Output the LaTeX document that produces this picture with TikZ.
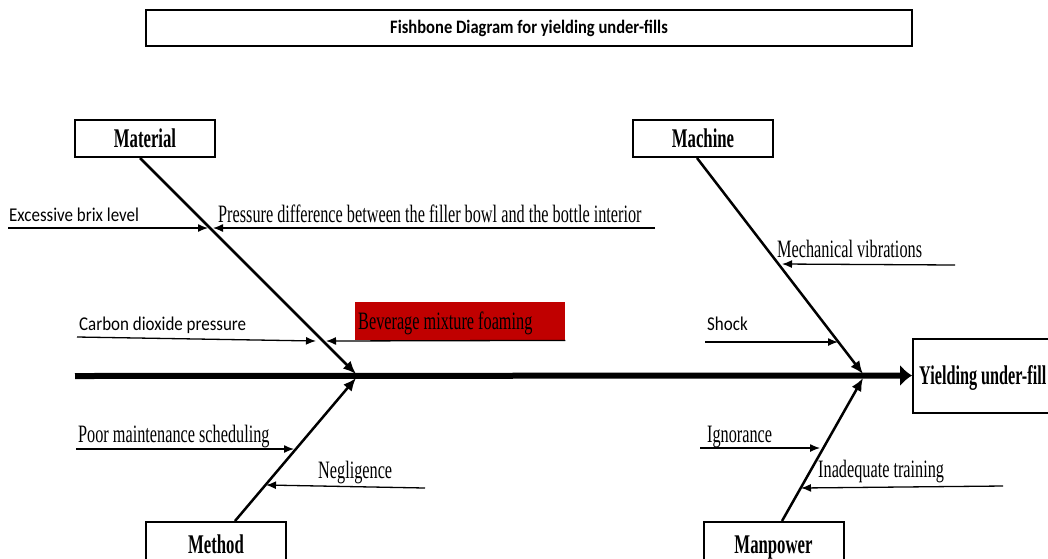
\documentclass[tikz,border=0pt]{standalone}
\usepackage{fontspec}
\setmainfont{Liberation Serif}
\newfontfamily\serifc[FakeStretch=0.65]{Liberation Serif}
\newfontfamily\serifcb[FakeStretch=0.62]{Liberation Serif}
\newfontfamily\serifce[FakeStretch=0.6]{Liberation Serif}
\newfontfamily\sansc[FakeStretch=0.87]{Carlito}
\usetikzlibrary{arrows.meta}
\definecolor{foamred}{RGB}{192,0,0}
\tikzset{
  catbox/.style={draw, line width=2pt, minimum width=140pt, minimum height=37pt, inner sep=0pt,
    text height=18pt, text depth=0pt, font=\serifcb\bfseries\fontsize{27}{30}\selectfont},
  titlebox/.style={draw, line width=2.5pt, minimum width=766pt, minimum height=36pt,
    font=\sansc\bfseries\fontsize{19}{22}\selectfont},
  effbox/.style={draw, line width=2pt, anchor=west, minimum height=74pt, minimum width=200pt, inner sep=0pt},
  efflab/.style={anchor=base west, inner sep=0pt, font=\serifce\bfseries\fontsize{27}{30}\selectfont},
  spine/.style={line width=6pt, -{Latex[length=12pt,width=22pt]}},
  bone/.style={line width=2.5pt, -{Latex[length=13pt,width=11pt]}},
  sub/.style={line width=1.3pt, -{Latex[length=10pt,width=8pt]}},
  slab/.style={anchor=base west, inner sep=0pt, font=\serifc\fontsize{25}{28}\selectfont},
  sslab/.style={anchor=base west, inner sep=0pt, font=\sansc\fontsize{19.5}{22}\selectfont},
  foambox/.style={fill=foamred, anchor=north west, minimum width=210pt, minimum height=38pt, inner sep=0pt},
}
\begin{document}
\begin{tikzpicture}[x=1pt,y=-1pt]
\clip (0,0) rectangle (1048,558);
\fill[white] (0,0) rectangle (1048,558);

% title
\node[titlebox] (title) at (529,28) {Fishbone Diagram for yielding under-fills};

% category boxes
\node[catbox] (material) at (145,138.5) {Material};
\node[catbox] (machine) at (703,138.5) {Machine};
\node[catbox, minimum height=44pt] (method) at (216,544) {Method};
\node[catbox, minimum height=44pt] (manpower) at (773.5,544) {Manpower};

% effect
\node[effbox] (effect) at (912,375.5) {};
\node[efflab] (efftext) at (919,384.5) {Yielding under-fill};

% junctions
\coordinate (j1a) at (356,374);
\coordinate (j1b) at (356,378);
\coordinate (j2a) at (863,374);
\coordinate (j2b) at (863,378);
\coordinate (tail) at (75,376);

% spine and bones
\draw[spine] (tail) -- (effect.west);
\draw[bone] ([xshift=-5pt]material.south) -- (j1a);
\draw[bone] ([xshift=19pt]method.north) -- (j1b);
\draw[bone] ([xshift=-6pt]machine.south) -- (j2a);
\draw[bone] ([xshift=8.5pt]manpower.north) -- (j2b);

% red cause box
\node[foambox] (foam) at (355,302) {};
\node[slab] (l4) at (358,329.5) {Beverage mixture foaming};

% sub-cause labels
\node[sslab] (l1) at (9,221) {Excessive brix level};
\node[slab] (l2) at (218,222) {Pressure difference between the filler bowl and the bottle interior};
\node[sslab] (l3) at (79,330) {Carbon dioxide pressure};
\node[slab] (l5) at (777,257) {Mechanical vibrations};
\node[sslab] (l6) at (707,330) {Shock};
\node[slab] (l7) at (78,442) {Poor maintenance scheduling};
\node[slab] (l8) at (318,478) {Negligence};
\node[slab] (l9) at (707,442) {Ignorance};
\node[slab] (l10) at (818,477) {Inadequate training};

% sub-cause arrow ends
\coordinate (s1) at (8,228);   \coordinate (e1) at (208,228);
\coordinate (s2) at (655,228); \coordinate (e2) at (213,228);
\coordinate (s3) at (77,337);  \coordinate (e3) at (316,341);
\coordinate (e4) at (326,341);
\coordinate (s5) at (955,265); \coordinate (e5) at (782,264);
\coordinate (s6) at (705,342); \coordinate (e6) at (838,342);
\coordinate (s7) at (76,449);  \coordinate (e7) at (294,449);
\coordinate (s8) at (425,488); \coordinate (e8) at (266,485);
\coordinate (s9) at (700,448); \coordinate (e9) at (820,448);
\coordinate (s10) at (1003,486); \coordinate (e10) at (801,488);

\draw[sub] (s1) -- (e1);
\draw[sub] (s2) -- (e2);
\draw[sub] (s3) -- (e3);
\draw[sub] (foam.south east) -- (e4);
\draw[sub] (s5) -- (e5);
\draw[sub] (s6) -- (e6);
\draw[sub] (s7) -- (e7);
\draw[sub] (s8) -- (e8);
\draw[sub] (s9) -- (e9);
\draw[sub] (s10) -- (e10);
\end{tikzpicture}
\end{document}
